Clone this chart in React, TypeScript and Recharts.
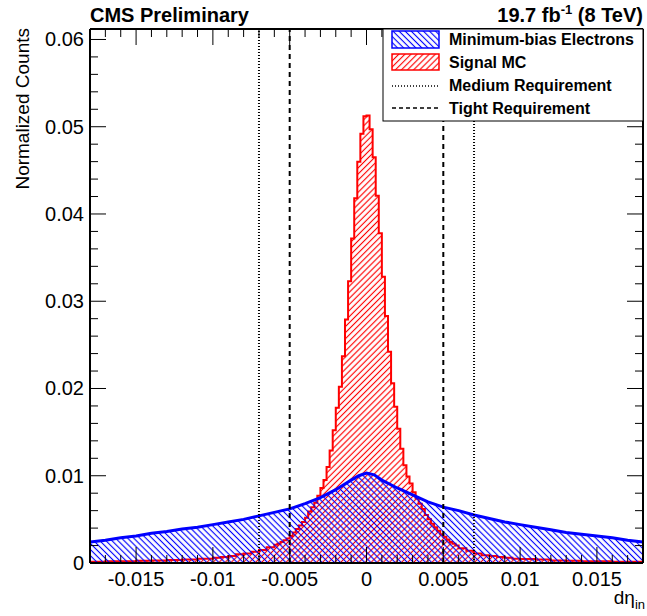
import React from 'react';
import { ComposedChart, Area, XAxis, YAxis, ReferenceLine } from 'recharts';

// ---------- Data ----------
// Signal MC histogram: core bins of width 0.0002 from -0.006 to 0.006
const signalCoreStart = -0.006;
const signalCoreBinWidth = 0.0002;
const signalCoreValues = [
  0.0021, 0.0022, 0.0024, 0.0026, 0.0028, 0.0031, 0.0035, 0.0039, 0.0043, 0.0047,
  0.0052, 0.0059, 0.0064, 0.0069, 0.0077, 0.0086, 0.0095, 0.0110, 0.0129, 0.0152,
  0.0178, 0.0202, 0.0237, 0.0279, 0.0323, 0.0372, 0.0418, 0.0460, 0.0492, 0.0512,
  0.0513, 0.0497, 0.0465, 0.0421, 0.0378, 0.0328, 0.0283, 0.0242, 0.0206, 0.0179,
  0.0154, 0.0131, 0.0112, 0.0099, 0.0091, 0.0081, 0.0074, 0.0068, 0.0062, 0.0055,
  0.0050, 0.0045, 0.0041, 0.0037, 0.0033, 0.0030, 0.0027, 0.0024, 0.0022, 0.0020,
];
// Signal MC tails (coarser bins, low edges)
const signalLeftTailEdges = [-0.018, -0.017, -0.016, -0.015, -0.014, -0.013, -0.012, -0.011, -0.01, -0.0095, -0.009, -0.0085, -0.008, -0.0075, -0.007, -0.0065];
const signalLeftTailValues = [0.00015, 0.0002, 0.0002, 0.00025, 0.0003, 0.00035, 0.0004, 0.0005, 0.0006, 0.0007, 0.0008, 0.001, 0.0011, 0.0013, 0.0015, 0.0018];
const signalRightTailEdges = [0.006, 0.0065, 0.007, 0.0075, 0.008, 0.0085, 0.009, 0.0095, 0.01, 0.011, 0.012, 0.013, 0.014, 0.015, 0.016, 0.017, 0.018];
const signalRightTailValues = [0.0017, 0.0014, 0.0011, 0.0009, 0.0008, 0.0007, 0.0006, 0.0005, 0.00045, 0.0004, 0.0003, 0.00025, 0.0002, 0.0002, 0.00015, 0.00015, 0.00015];

// Minimum-bias electrons
const minBiasX = [-0.018, -0.017, -0.016, -0.015, -0.014, -0.013, -0.012, -0.011, -0.01, -0.009, -0.008, -0.007, -0.006, -0.005, -0.004, -0.003, -0.002, -0.001, -0.0005, 0, 0.0005, 0.001, 0.002, 0.003, 0.004, 0.005, 0.006, 0.007, 0.008, 0.009, 0.01, 0.011, 0.012, 0.013, 0.014, 0.015, 0.016, 0.017, 0.018];
const minBiasY = [0.0024, 0.0026, 0.0029, 0.0031, 0.0034, 0.0036, 0.0039, 0.0041, 0.0044, 0.0047, 0.005, 0.0054, 0.0058, 0.0062, 0.0068, 0.0075, 0.0084, 0.0095, 0.01, 0.0103, 0.0101, 0.0095, 0.0086, 0.0078, 0.007, 0.0064, 0.006, 0.0055, 0.0051, 0.0047, 0.0044, 0.0041, 0.0038, 0.0035, 0.0033, 0.0031, 0.0029, 0.0026, 0.0024];

// Cut lines
const mediumCuts = [-0.007, 0.007];
const tightCuts = [-0.005, 0.005];

// Axis ticks
const xDomain: [number, number] = [-0.018, 0.018];
const yDomain: [number, number] = [0, 0.0612];
const xMajorTicks = [-0.015, -0.01, -0.005, 0, 0.005, 0.01, 0.015];
const xMajorLabels = ['-0.015', '-0.01', '-0.005', '0', '0.005', '0.01', '0.015'];
const xAllTicks = [-0.018, -0.017, -0.016, -0.015, -0.014, -0.013, -0.012, -0.011, -0.01, -0.009, -0.008, -0.007, -0.006, -0.005, -0.004, -0.003, -0.002, -0.001, 0, 0.001, 0.002, 0.003, 0.004, 0.005, 0.006, 0.007, 0.008, 0.009, 0.01, 0.011, 0.012, 0.013, 0.014, 0.015, 0.016, 0.017, 0.018];
const yMajorTicks = [0, 0.01, 0.02, 0.03, 0.04, 0.05, 0.06];
const yMajorLabels = ['0', '0.01', '0.02', '0.03', '0.04', '0.05', '0.06'];
const yAllTicks = [0, 0.002, 0.004, 0.006, 0.008, 0.01, 0.012, 0.014, 0.016, 0.018, 0.02, 0.022, 0.024, 0.026, 0.028, 0.03, 0.032, 0.034, 0.036, 0.038, 0.04, 0.042, 0.044, 0.046, 0.048, 0.05, 0.052, 0.054, 0.056, 0.058, 0.06];

// ---------- Build table ----------
const r6 = (v: number) => Math.round(v * 1e7) / 1e7;
const signalEdges: number[] = [];
const signalValues: number[] = [];
signalLeftTailEdges.forEach((e, i) => { signalEdges.push(e); signalValues.push(signalLeftTailValues[i]); });
signalCoreValues.forEach((v, i) => { signalEdges.push(r6(signalCoreStart + i * signalCoreBinWidth)); signalValues.push(v); });
signalRightTailEdges.forEach((e, i) => { signalEdges.push(e); signalValues.push(signalRightTailValues[i]); });

const rowMap = new Map<number, { x: number; signal?: number; minbias?: number }>();
const getRow = (x: number) => {
  const k = r6(x);
  if (!rowMap.has(k)) rowMap.set(k, { x: k });
  return rowMap.get(k)!;
};
signalEdges.forEach((e, i) => { getRow(e).signal = signalValues[i]; });
minBiasX.forEach((x, i) => { getRow(x).minbias = minBiasY[i]; });
const data = Array.from(rowMap.values()).sort((a, b) => a.x - b.x);

const FONT = '"Liberation Sans", Arial, Helvetica, sans-serif';
const near = (a: number, b: number) => Math.abs(a - b) < 1e-9;

const XTickBottom = (props: any) => {
  const { x, y, payload } = props;
  const idx = xMajorTicks.findIndex((v) => near(v, payload.value));
  const major = idx >= 0;
  return (
    <g>
      <line x1={x} x2={x} y1={y} y2={y - (major ? 16 : 8)} stroke="#000" strokeWidth={1} />
      {major && (
        <text x={x} y={y + 23} textAnchor="middle" fontSize={20} fontFamily={FONT} fill="#000">
          {xMajorLabels[idx]}
        </text>
      )}
    </g>
  );
};
const XTickTop = (props: any) => {
  const { x, y, payload } = props;
  const major = xMajorTicks.some((v) => near(v, payload.value));
  return <line x1={x} x2={x} y1={y} y2={y + (major ? 16 : 8)} stroke="#000" strokeWidth={1} />;
};
const YTickLeft = (props: any) => {
  const { x, y, payload } = props;
  const idx = yMajorTicks.findIndex((v) => near(v, payload.value));
  const major = idx >= 0;
  return (
    <g>
      <line x1={x} x2={x + (major ? 16 : 8)} y1={y} y2={y} stroke="#000" strokeWidth={1} />
      {major && (
        <text x={x - 6} y={y + 7} textAnchor="end" fontSize={20} fontFamily={FONT} fill="#000">
          {yMajorLabels[idx]}
        </text>
      )}
    </g>
  );
};
const YTickRight = (props: any) => {
  const { x, y, payload } = props;
  const major = yMajorTicks.some((v) => near(v, payload.value));
  return <line x1={x} x2={x - (major ? 16 : 8)} y1={y} y2={y} stroke="#000" strokeWidth={1} />;
};

const Hatch = ({ id, color, angle }: { id: string; color: string; angle: number }) => (
  <pattern id={id} patternUnits="userSpaceOnUse" width={4.3} height={4.3} patternTransform={`rotate(${angle})`}>
    <line x1={2.15} y1={-1} x2={2.15} y2={5.3} stroke={color} strokeWidth={1.15} />
  </pattern>
);

export default function App() {
  return (
    <div style={{ position: 'absolute', left: 0, top: 0, width: 647, height: 616, background: '#fff' }}>
      <ComposedChart width={647} height={616} data={data} margin={{ top: 0, right: 0, bottom: 0, left: 0 }}>
        <defs>
          <Hatch id="blueHatch" color="#0000ff" angle={-45} />
          <Hatch id="redHatch" color="#ff0000" angle={45} />
        </defs>
        <XAxis
          dataKey="x"
          type="number"
          domain={xDomain}
          allowDataOverflow
          ticks={xAllTicks}
          interval={0}
          tickSize={0}
          tickMargin={0}
          tickLine={false}
          axisLine={{ stroke: '#000', strokeWidth: 2 }}
          height={53}
          tick={<XTickBottom />}
        />
        <XAxis
          xAxisId="top"
          orientation="top"
          dataKey="x"
          type="number"
          domain={xDomain}
          allowDataOverflow
          ticks={xAllTicks}
          interval={0}
          tickSize={0}
          tickMargin={0}
          tickLine={false}
          axisLine={{ stroke: '#000', strokeWidth: 2 }}
          height={29}
          tick={<XTickTop />}
        />
        <YAxis
          type="number"
          domain={yDomain}
          allowDataOverflow
          ticks={yAllTicks}
          interval={0}
          tickSize={0}
          tickMargin={0}
          tickLine={false}
          axisLine={{ stroke: '#000', strokeWidth: 2 }}
          width={90}
          tick={<YTickLeft />}
        />
        <YAxis
          yAxisId="right"
          orientation="right"
          type="number"
          domain={yDomain}
          allowDataOverflow
          ticks={yAllTicks}
          interval={0}
          tickSize={0}
          tickMargin={0}
          tickLine={false}
          axisLine={{ stroke: '#000', strokeWidth: 2 }}
          width={4}
          tick={<YTickRight />}
        />
        <Area
          type="stepAfter"
          dataKey="signal"
          stroke="#ff0000"
          strokeWidth={2}
          fill="url(#redHatch)"
          fillOpacity={1}
          connectNulls
          dot={false}
          activeDot={false}
          isAnimationActive={false}
        />
        <Area
          type="linear"
          dataKey="minbias"
          stroke="#0000ff"
          strokeWidth={3}
          fill="url(#blueHatch)"
          fillOpacity={1}
          connectNulls
          dot={false}
          activeDot={false}
          isAnimationActive={false}
        />
        {mediumCuts.map((v) => (
          <ReferenceLine key={`m${v}`} x={v} stroke="#000" strokeWidth={2} strokeDasharray="1 2" />
        ))}
        {tightCuts.map((v) => (
          <ReferenceLine key={`t${v}`} x={v} stroke="#000" strokeWidth={2} strokeDasharray="5 4" />
        ))}
      </ComposedChart>
      <svg width={647} height={616} style={{ position: 'absolute', left: 0, top: 0, pointerEvents: 'none' }} fontFamily={FONT}>
        <defs>
          <Hatch id="lgBlueHatch" color="#0000ff" angle={-45} />
          <Hatch id="lgRedHatch" color="#ff0000" angle={45} />
        </defs>
        <text x={90} y={22} fontSize={20} fontWeight="bold" fill="#000">CMS Preliminary</text>
        <text x={643} y={22} fontSize={20} fontWeight="bold" fill="#000" textAnchor="end">
          19.7 fb<tspan fontSize={13} dy={-8}>-1</tspan><tspan dy={8}> (8 TeV)</tspan>
        </text>
        <text transform="translate(29,28) rotate(-90)" textAnchor="end" fontSize={19} fill="#000">Normalized Counts</text>
        <text x={645} y={604} textAnchor="end" fontSize={19} fill="#000">
          dη<tspan fontSize={13} dy={5}>in</tspan>
        </text>
        <rect x={383} y={29} width={260} height={92} fill="#fff" stroke="#000" strokeWidth={1} />
        <rect x={392} y={31} width={47} height={17} fill="url(#lgBlueHatch)" stroke="#0000ff" strokeWidth={1.5} />
        <text x={449} y={45} fontSize={16} fontWeight="bold" fill="#000">Minimum-bias Electrons</text>
        <rect x={392} y={54} width={47} height={16} fill="url(#lgRedHatch)" stroke="#ff0000" strokeWidth={1.5} />
        <text x={449} y={68} fontSize={16} fontWeight="bold" fill="#000">Signal MC</text>
        <line x1={392} x2={439} y1={86} y2={86} stroke="#000" strokeWidth={1.5} strokeDasharray="1 2" />
        <text x={449} y={91} fontSize={16} fontWeight="bold" fill="#000">Medium Requirement</text>
        <line x1={392} x2={439} y1={108} y2={108} stroke="#000" strokeWidth={1.5} strokeDasharray="4 3" />
        <text x={449} y={114} fontSize={16} fontWeight="bold" fill="#000">Tight Requirement</text>
      </svg>
    </div>
  );
}
